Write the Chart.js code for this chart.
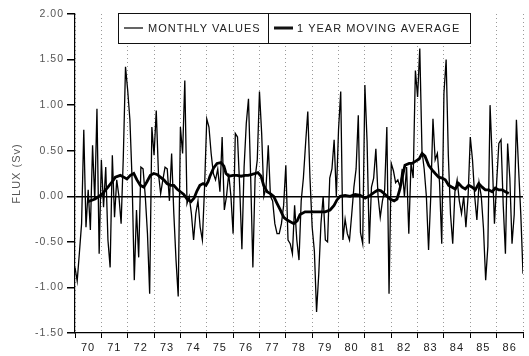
<!DOCTYPE html>
<html>
<head>
<meta charset="utf-8">
<title>Flux (Sv)</title>
<script src="https://cdn.jsdelivr.net/npm/chart.js@4.4.1/dist/chart.umd.min.js"></script>
<style>
  html, body { margin: 0; padding: 0; background: #fff; }
  #wrap { width: 529px; height: 356px; }
</style>
</head>
<body>
<div id="wrap"><canvas id="chart" width="529" height="356"></canvas></div>
<script>
// Monthly flux values (Sv), one row per year starting Jan 1970
const startYear = 1970;
const monthlyValues = [
  -0.78, -0.93, -0.62, -0.30, 0.73, -0.34, 0.07, -0.37, 0.56, -0.04, 0.96, -0.63,  // 70
  0.40, -0.12, 0.32, -0.48, -0.78, 0.45, -0.23, 0.18, 0.00, -0.30, 0.43, 1.42,     // 71
  1.16, 0.84, 0.18, -0.92, -0.15, -0.67, 0.32, 0.30, 0.00, -0.41, -1.07, 0.76,     // 72
  0.45, 0.94, 0.25, 0.03, 0.18, 0.32, 0.30, -0.05, 0.47, -0.19, -0.70, -1.10,      // 73
  0.76, 0.47, 1.27, -0.08, 0.00, -0.19, -0.48, -0.19, -0.05, -0.34, -0.48, 0.10,   // 74
  0.85, 0.76, 0.47, 0.25, 0.18, 0.30, 0.05, 0.65, -0.15, 0.00, 0.25, 0.00,         // 75
  -0.41, 0.69, 0.65, 0.10, -0.58, 0.32, 0.80, 1.07, 0.20, -0.78, 0.20, 0.40,       // 76
  1.15, 0.69, 0.00, 0.10, 0.56, 0.00, -0.05, -0.30, -0.41, -0.41, -0.30, -0.10,    // 77
  0.34, -0.48, -0.52, -0.63, -0.10, -0.48, -0.70, -0.05, 0.20, 0.58, 0.93, 0.20,   // 78
  -0.34, -0.60, -1.27, -0.85, -0.30, 0.00, -0.48, -0.50, 0.20, 0.30, 0.62, 0.00,   // 79
  0.73, 1.15, -0.48, -0.25, -0.41, -0.48, -0.20, 0.10, 0.30, 0.89, -0.40, -0.52,   // 80
  1.22, 0.60, -0.52, 0.10, 0.20, 0.52, 0.00, -0.23, -0.05, 0.07, 0.76, -1.07,      // 81
  0.36, 0.28, 0.15, 0.18, 0.10, 0.30, 0.00, 0.32, -0.41, 0.36, 0.20, 1.38,         // 82
  1.09, 1.62, 0.50, 0.30, 0.00, -0.59, 0.00, 0.85, 0.40, 0.47, 0.15, -0.52,        // 83
  1.13, 1.50, 0.45, -0.20, -0.52, 0.05, 0.18, -0.05, -0.19, 0.00, -0.34, 0.00,     // 84
  0.65, 0.40, 0.00, -0.26, 0.15, 0.00, -0.35, -0.92, -0.55, 1.00, 0.40, -0.30,     // 85
  0.15, 0.58, 0.62, -0.10, -0.63, 0.58, 0.20, -0.52, -0.20, 0.84, 0.30, -0.20,     // 86
  -0.85
];

// 1 year moving average
const maYears = [
  1970.49, 1970.76, 1971.02, 1971.25, 1971.44, 1971.53, 1971.72, 1971.85, 1971.97,
  1972.10, 1972.23, 1972.35, 1972.48, 1972.61, 1972.73, 1972.86, 1972.99,
  1973.11, 1973.24, 1973.37, 1973.49, 1973.62, 1973.75, 1973.87,
  1974.00, 1974.13, 1974.25, 1974.40, 1974.52, 1974.63, 1974.74, 1974.86, 1974.97,
  1975.05, 1975.12, 1975.26, 1975.39, 1975.54, 1975.65, 1975.73, 1975.84,
  1976.00, 1976.15, 1976.30, 1976.45, 1976.57, 1976.72, 1976.83, 1976.94,
  1977.06, 1977.16, 1977.29, 1977.41, 1977.54, 1977.67, 1977.79, 1977.92,
  1978.05, 1978.17, 1978.30, 1978.43, 1978.54, 1978.73, 1978.92,
  1979.11, 1979.30, 1979.49, 1979.68, 1979.83, 1979.94,
  1980.06, 1980.25, 1980.44, 1980.63, 1980.82,
  1981.01, 1981.20, 1981.39, 1981.50, 1981.61, 1981.77, 1981.95,
  1982.11, 1982.22, 1982.33, 1982.45, 1982.52, 1982.68, 1982.79, 1982.90,
  1983.06, 1983.17, 1983.28, 1983.42, 1983.55, 1983.67, 1983.80, 1983.93,
  1984.05, 1984.18, 1984.31, 1984.43, 1984.56, 1984.69, 1984.81, 1984.94,
  1985.07, 1985.19, 1985.32, 1985.45, 1985.57, 1985.70, 1985.83, 1985.95,
  1986.08, 1986.21, 1986.33, 1986.46
];
const maValues = [
  -0.06, -0.03, 0.02, 0.10, 0.17, 0.21, 0.23, 0.21, 0.19,
  0.23, 0.25, 0.18, 0.12, 0.10, 0.16, 0.23, 0.25,
  0.24, 0.21, 0.18, 0.14, 0.12, 0.12, 0.08,
  0.05, 0.02, -0.03, -0.06, -0.02, 0.06, 0.12, 0.14, 0.12,
  0.16, 0.22, 0.31, 0.36, 0.37, 0.33, 0.25, 0.22,
  0.23, 0.23, 0.22, 0.23, 0.23, 0.24, 0.25, 0.26,
  0.22, 0.12, 0.05, 0.03, 0.00, -0.08, -0.15, -0.23,
  -0.26, -0.28, -0.30, -0.27, -0.20, -0.17, -0.17,
  -0.17, -0.17, -0.17, -0.15, -0.10, -0.04,
  0.00, 0.01, 0.00, 0.02, 0.01,
  -0.02, 0.01, 0.05, 0.07, 0.06, 0.02, -0.03,
  -0.05, -0.03, 0.08, 0.25, 0.34, 0.36, 0.36, 0.38,
  0.41, 0.47, 0.44, 0.34, 0.29, 0.25, 0.21, 0.20,
  0.18, 0.12, 0.10, 0.08, 0.14, 0.10, 0.08, 0.12,
  0.10, 0.07, 0.14, 0.10, 0.07, 0.07, 0.05, 0.09,
  0.07, 0.07, 0.05, 0.03
];

const yearLabels = ['70', '71', '72', '73', '74', '75', '76', '77', '78',
                    '79', '80', '81', '82', '83', '84', '85', '86'];
const legendLabels = ['MONTHLY VALUES', '1 YEAR MOVING AVERAGE'];

const FONT = '"Liberation Sans", Arial, sans-serif';

const monthlyPoints = monthlyValues.map((v, i) => ({ x: startYear + i / 12, y: v }));
const maPoints = maYears.map((t, i) => ({ x: t, y: maValues[i] }));

// plotter-style wide lettering
const spacing = {
  id: 'spacing',
  beforeDraw(chart) { chart.ctx.letterSpacing = '1px'; }
};

// boxed legend with a divider between the two entries
const boxLegend = {
  id: 'boxLegend',
  afterDatasetsDraw(chart) {
    const { ctx, chartArea } = chart;
    const left = chartArea.left + 43, top = chartArea.top - 1;
    const w = 352, h = 30, split = left + 150;
    const cy = top + h / 2;
    ctx.save();
    ctx.fillStyle = '#fff';
    ctx.fillRect(left, top, w, h);
    ctx.strokeStyle = '#111';
    ctx.lineWidth = 1;
    ctx.strokeRect(left + 0.5, top + 0.5, w, h);
    ctx.beginPath();
    ctx.moveTo(split + 0.5, top);
    ctx.lineTo(split + 0.5, top + h);
    ctx.stroke();

    ctx.beginPath();
    ctx.moveTo(left + 6, cy);
    ctx.lineTo(left + 25, cy);
    ctx.lineWidth = 1.3;
    ctx.stroke();
    ctx.beginPath();
    ctx.moveTo(split + 6, cy);
    ctx.lineTo(split + 25, cy);
    ctx.lineWidth = 3;
    ctx.stroke();

    ctx.letterSpacing = '1px';
    ctx.font = '11px ' + FONT;
    ctx.fillStyle = '#222';
    ctx.textBaseline = 'middle';
    ctx.textAlign = 'left';
    ctx.fillText(legendLabels[0], left + 30, cy + 1);
    ctx.fillText(legendLabels[1], split + 29, cy + 1);
    ctx.restore();
  }
};

new Chart(document.getElementById('chart'), {
  type: 'line',
  data: {
    datasets: [
      {
        label: legendLabels[1],
        data: maPoints,
        borderColor: '#000',
        borderWidth: 2.8,
        pointRadius: 0,
        tension: 0
      },
      {
        label: legendLabels[0],
        data: monthlyPoints,
        borderColor: '#000',
        borderWidth: 1.3,
        pointRadius: 0,
        tension: 0
      }
    ]
  },
  options: {
    responsive: false,
    animation: false,
    layout: { padding: { top: 14, right: 6, left: 0, bottom: 0 } },
    plugins: {
      legend: { display: false },
      tooltip: { enabled: false }
    },
    scales: {
      x: {
        type: 'linear',
        min: 1970,
        max: 1987,
        afterFit(scale) { scale.height = 23; },
        afterBuildTicks(scale) {
          scale.ticks = [];
          for (let y = 1970; y <= 1987; y++) scale.ticks.push({ value: y });
        },
        ticks: {
          autoSkip: false,
          maxRotation: 0,
          labelOffset: 13,
          padding: 3,
          color: '#222',
          font: { family: FONT, size: 11 },
          callback: (v, i) => yearLabels[i] ?? ''
        },
        grid: {
          color: '#9a9a9a',
          lineWidth: 1,
          tickColor: '#000',
          tickLength: 5
        },
        border: { color: '#000', width: 1.2, dash: [1, 3] }
      },
      y: {
        min: -1.5,
        max: 2.0,
        afterFit(scale) { scale.width = 75; },
        ticks: {
          stepSize: 0.5,
          padding: 3,
          color: '#555',
          font: { family: FONT, size: 10.5 },
          callback: v => v.toFixed(2)
        },
        grid: {
          color: c => (c.tick && c.tick.value === 0 ? '#000' : 'rgba(0,0,0,0)'),
          lineWidth: 1.5,
          tickColor: '#000',
          tickLength: 8
        },
        border: { color: '#000', width: 1.2 },
        title: {
          display: true,
          text: 'FLUX (Sv)',
          color: '#555',
          font: { family: FONT, size: 11 },
          padding: { top: 10, bottom: 0 }
        }
      }
    }
  },
  plugins: [spacing, boxLegend]
});
</script>
</body>
</html>
